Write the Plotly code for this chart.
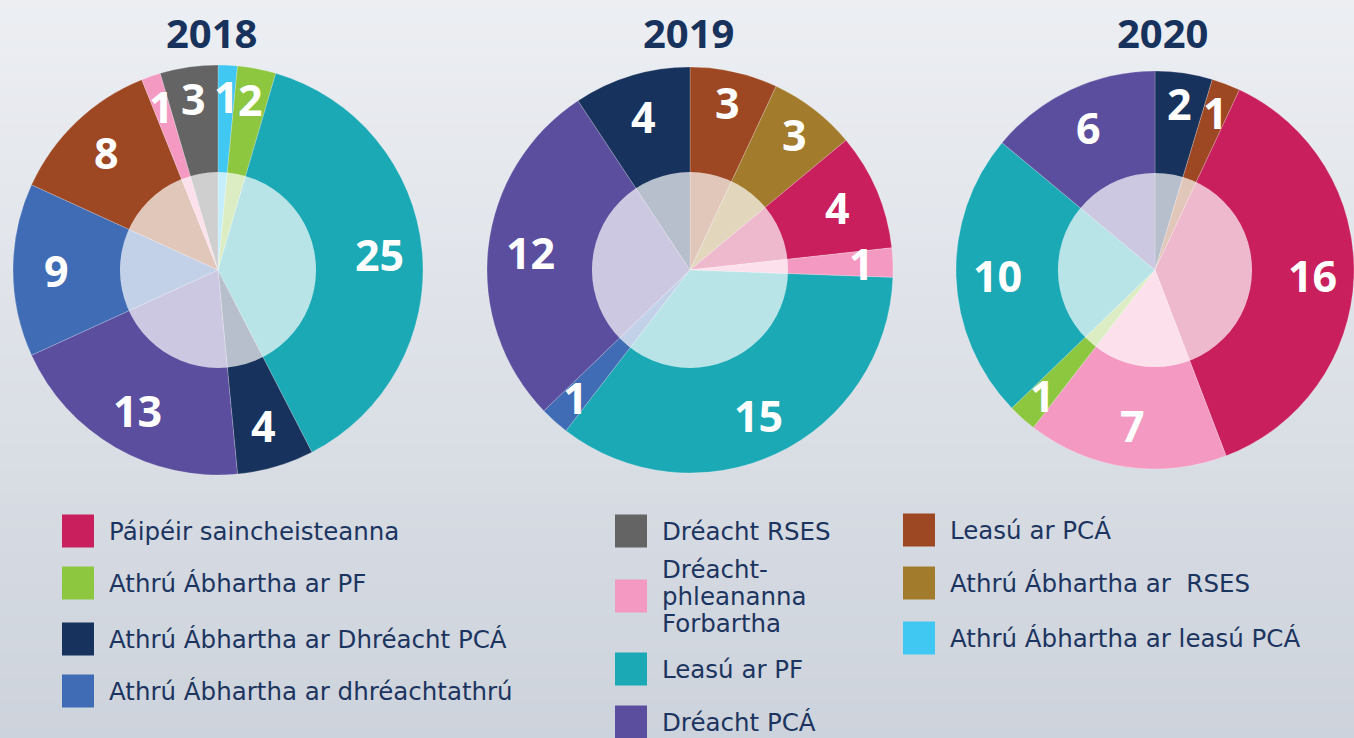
import math
import plotly.graph_objects as go

W, H = 1354, 738

# categories (legend order) and their colours
categories = [
    "Páipéir saincheisteanna",
    "Athrú Ábhartha ar PF",
    "Athrú Ábhartha ar Dhréacht PCÁ",
    "Athrú Ábhartha ar dhréachtathrú",
    "Dréacht RSES",
    "Dréacht-\nphleananna\nForbartha",
    "Leasú ar PF",
    "Dréacht PCÁ",
    "Leasú ar PCÁ",
    "Athrú Ábhartha ar\u00a0 RSES",
    "Athrú Ábhartha ar leasú PCÁ",
]
colors = ["#c91f5d", "#8dc63f", "#17325c", "#3f6cb5", "#646464", "#f49ac2",
          "#1ca9b6", "#5b4e9e", "#9e4823", "#a37b2c", "#40c7f2"]

years = ["2018", "2019", "2020"]

# slices per year, clockwise from 12 o'clock (index into categories)
slices_2018 = [10, 1, 6, 2, 7, 3, 8, 5, 4]
values_2018 = [1, 2, 25, 4, 13, 9, 8, 1, 3]

slices_2019 = [8, 9, 0, 5, 6, 3, 7, 2]
values_2019 = [3, 3, 4, 1, 15, 1, 12, 4]

slices_2020 = [2, 8, 0, 5, 1, 6, 7]
values_2020 = [2, 1, 16, 7, 1, 10, 6]

year_slices = [slices_2018, slices_2019, slices_2020]
year_values = [values_2018, values_2019, values_2020]

# pie geometry in pixels: centre x, centre y, radius, inner overlay radius, title x
pie_geom = [(218, 270, 205, 98, 211), (690, 270, 203, 98, 689), (1155, 270, 199, 97, 1162)]

# legend positions: square left x, row centre y (per category)
legend_pos = [(62, 531), (62, 583), (62, 639), (62, 691),
              (615, 531), (615, 596), (615, 669), (615, 722),
              (903, 530), (903, 583), (903, 638)]


def px(x):
    return x / W


def py(y):
    return 1 - y / H


fig = go.Figure()
annotations = []
shapes = []

# background gradient
n_strips = 60
top_rgb = (236, 238, 242)
bot_rgb = (205, 211, 220)
for i in range(n_strips):
    t = i / (n_strips - 1)
    c = tuple(round(top_rgb[k] + (bot_rgb[k] - top_rgb[k]) * t) for k in range(3))
    shapes.append(dict(type="rect", xref="paper", yref="paper",
                       x0=0, x1=1, y0=1 - (i + 1) / n_strips - 0.002, y1=1 - i / n_strips,
                       fillcolor="rgb(%d,%d,%d)" % c, line=dict(width=0), layer="below"))

for year, sl, vals, (cx, cy, r, ri, tx) in zip(years, year_slices, year_values, pie_geom):
    fig.add_trace(go.Pie(
        labels=[categories[i] for i in sl],
        values=vals,
        marker=dict(colors=[colors[i] for i in sl], line=dict(width=0.6, color="rgba(255,255,255,0.35)")),
        sort=False, direction="clockwise", rotation=0,
        textinfo="none", hoverinfo="label+value", showlegend=False,
        domain=dict(x=[px(cx - r), px(cx + r)], y=[py(cy + r), py(cy - r)]),
    ))
    # translucent white inner disc
    fig.add_trace(go.Pie(
        values=[1], labels=[""], marker=dict(colors=["rgba(255,255,255,0.69)"], line=dict(width=0)),
        textinfo="none", hoverinfo="skip", showlegend=False, sort=False,
        domain=dict(x=[px(cx - ri), px(cx + ri)], y=[py(cy + ri), py(cy - ri)]),
    ))
    # value labels
    total = sum(vals)
    cum = 0
    for v in vals:
        mid = (cum + v / 2) / total * 2 * math.pi
        cum += v
        rl = r * (0.845 if v <= 3 else 0.79)
        annotations.append(dict(
            x=px(cx + rl * math.sin(mid)), y=py(cy - rl * math.cos(mid)),
            xref="paper", yref="paper", text="<b>%d</b>" % v, showarrow=False,
            font=dict(family="Open Sans", size=43, color="white"),
            xanchor="center", yanchor="middle"))
    # year title
    annotations.append(dict(
        x=px(tx), y=py(32), xref="paper", yref="paper",
        text="<b>%s</b>" % year, showarrow=False,
        font=dict(family="Open Sans", size=40, color="#17325c"),
        xanchor="center", yanchor="middle"))

# legend
for name, col, (lx, ly) in zip(categories, colors, legend_pos):
    shapes.append(dict(type="rect", xref="paper", yref="paper",
                       x0=px(lx), x1=px(lx + 32), y0=py(ly + 16.5), y1=py(ly - 16.5),
                       fillcolor=col, line=dict(width=0)))
    lines = name.split("\n")
    for k, line in enumerate(lines):
        yy = ly + (k - (len(lines) - 1) / 2) * 27
        annotations.append(dict(
            x=px(lx + 45), y=py(yy), xref="paper", yref="paper", text=line,
            showarrow=False, xanchor="left", yanchor="middle",
            font=dict(family="DejaVu Sans", size=24.5, color="#1c3560")))

fig.update_layout(
    width=W, height=H,
    margin=dict(l=0, r=0, t=0, b=0),
    paper_bgcolor="#e1e4ea",
    plot_bgcolor="rgba(0,0,0,0)",
    shapes=shapes,
    annotations=annotations,
)

fig.write_html("out.html", config={"displayModeBar": False},
               post_script="document.body.style.margin='0px';")
